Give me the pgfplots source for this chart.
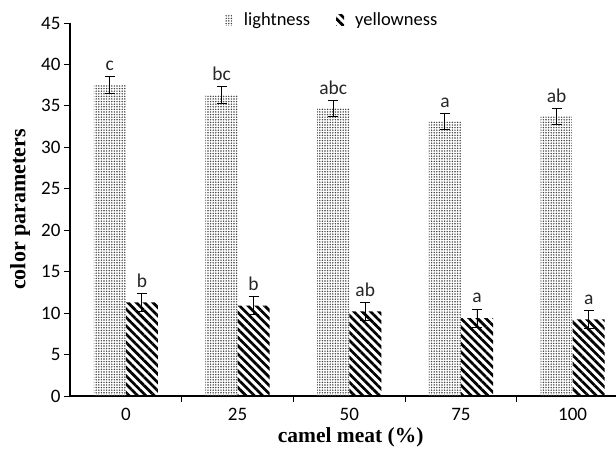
\documentclass[border=0pt]{standalone}
\usepackage{fontspec}
\setmainfont{Carlito}
\newfontfamily\timesf{Liberation Serif}
\usepackage{pgfplots}
\usepackage{pgfplotstable}
\pgfplotsset{compat=1.18}
\usetikzlibrary{patterns.meta}

\pgfplotstableread{
x  light  lerr  llab  yell  yerr  ylab
0  37.5   1.0   c     11.3  1.1   b
1  36.3   1.0   bc    10.9  1.1   b
2  34.7   1.0   abc   10.2  1.1   ab
3  33.1   1.0   a     9.4   1.1   a
4  33.7   1.0   ab    9.25  1.1   a
}\datatable

\begin{document}
\begin{tikzpicture}
\begin{axis}[
  scale only axis,
  width=546bp, height=373bp,
  xmin=-0.5, xmax=4.388,
  ymin=0, ymax=45,
  axis x line=bottom, axis y line=left,
  axis line style={-, line width=1.2bp, black},
  font=\fontsize{19bp}{23bp}\selectfont,
  /pgf/number format/assume math mode=true,
  ytick={0,5,...,45},
  xtick={0,1,2,3,4},
  xticklabels={0,25,50,75,100},
  major x tick style={draw=none},
  minor xtick={0.5,1.5,2.5,3.5},
  minor x tick style={line width=0.8bp, black},
  minor tick length=6bp,
  major tick length=6bp,
  tick align=outside,
  y tick style={line width=0.8bp, black},
  xticklabel style={yshift=-3bp},
  xlabel={\timesf\bfseries camel meat (\%)},
  ylabel={\timesf\bfseries color parameters},
  xlabel style={at={(axis description cs:0.514,-0.11)}, anchor=center, font=\fontsize{21.5bp}{24bp}\selectfont},
  ylabel style={at={(axis description cs:-0.0916,0.5)}, anchor=center, font=\fontsize{22bp}{24bp}\selectfont},
  legend columns=2,
  legend style={draw=none, fill=none, at={(axis description cs:0.48,1.008)}, anchor=center,
    /tikz/every odd column/.append style={column sep=9bp},
    /tikz/every even column/.append style={column sep=24bp},
    font=\fontsize{18.5bp}{21bp}\selectfont},
  legend image code/.code={\path[#1] (0bp,-5bp) rectangle (8bp,6bp);},
  clip=false,
]
\addplot[ybar, bar width=0.287, bar shift=0, draw=none,
  pattern={Dots[distance=2.6bp, radius=0.8bp]}, pattern color=black!75,
  error bars/.cd, y dir=both, y explicit,
  error bar style={line width=0.9bp, black},
  error mark options={rotate=90, mark size=5bp, line width=0.9bp, black}]
  table[x expr=\thisrow{x}-0.1435, y=light, y error=lerr] {\datatable};
\addlegendentry{lightness}
\addplot[ybar, bar width=0.287, bar shift=0, draw=none,
  pattern={Lines[angle=-45, distance=5.9bp, line width=2.7bp]}, pattern color=black,
  error bars/.cd, y dir=both, y explicit,
  error bar style={line width=0.9bp, black},
  error mark options={rotate=90, mark size=5bp, line width=0.9bp, black}]
  table[x expr=\thisrow{x}+0.1435, y=yell, y error=yerr] {\datatable};
\addlegendentry{yellowness}
\addplot[only marks, mark=none, forget plot,
  point meta=explicit symbolic,
  nodes near coords, nodes near coords style={anchor=base, yshift=6bp, font=\fontsize{19.5bp}{23bp}\selectfont, text=black!85}]
  table[x expr=\thisrow{x}-0.1435, y expr=\thisrow{light}+\thisrow{lerr}, meta=llab] {\datatable};
\addplot[only marks, mark=none, forget plot,
  point meta=explicit symbolic,
  nodes near coords, nodes near coords style={anchor=base, yshift=6bp, font=\fontsize{19.5bp}{23bp}\selectfont, text=black!85}]
  table[x expr=\thisrow{x}+0.1435, y expr=\thisrow{yell}+\thisrow{yerr}, meta=ylab] {\datatable};
\end{axis}
\pgfresetboundingbox
\path (current axis.south west) ++(-70bp,-54bp) rectangle ([yshift=23bp]current axis.north east);
\end{tikzpicture}
\end{document}
